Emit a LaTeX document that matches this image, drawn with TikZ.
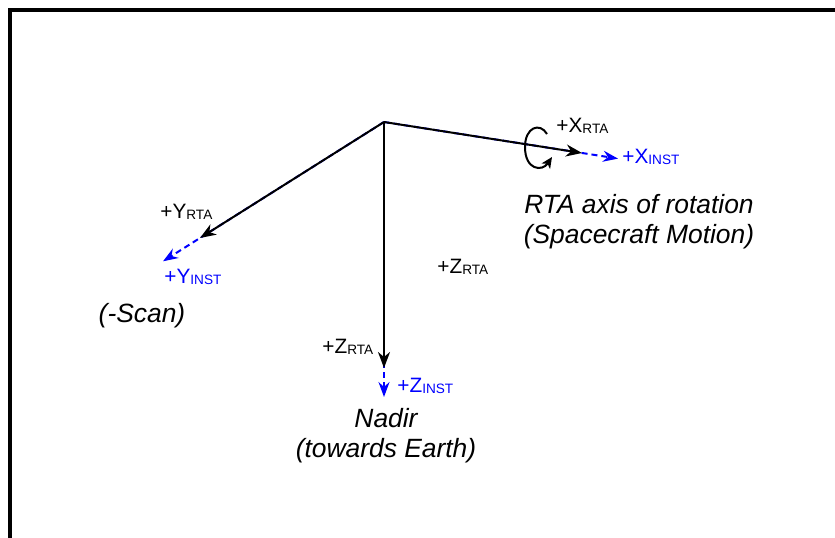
\documentclass[tikz,border=0pt]{standalone}
\usepackage{fontspec}
\setmainfont{Liberation Sans}
\usepackage{tikz}
\usetikzlibrary{arrows.meta}
\usetikzlibrary{calc}
\definecolor{instblue}{RGB}{0,0,255}
\tikzstyle{rta} = [draw=black,line width=1pt,-{Stealth[length=8pt,width=6pt,inset=2.5pt]}]
\tikzstyle{inst} = [draw=instblue,line width=1pt,dash pattern=on 3pt off 2pt,-{Stealth[length=7.5pt,width=5.5pt,inset=2.5pt]}]
\tikzstyle{lbl} = [inner sep=0pt,anchor=base west,font=\fontsize{10.4}{12}\selectfont]
\tikzstyle{note} = [inner sep=0pt,anchor=base,align=center,font=\fontsize{13.2}{15}\selectfont\itshape]
\newcommand{\axlbl}[2]{+#1\raisebox{-0.6pt}{\fontsize{6.8}{8}\selectfont #2}}

\begin{document}
\begin{tikzpicture}[x=0.5pt,y=-0.5pt]
\useasboundingbox (0,0) rectangle (835,537);
\clip (0,0) rectangle (835,537);
\draw[line width=2pt] (10,560) -- (10,10) -- (860,10);

\coordinate (O) at (384,122);
\coordinate (xr) at (582,153);
\coordinate (xi) at (618,158.6);
\coordinate (yr) at (200,238);
\coordinate (yi) at (163,261.3);
\coordinate (zr) at (384,368);
\coordinate (zi) at (384,397);

% instrument axes (under)
\draw[inst] (O) -- (xi);
\draw[inst] (O) -- (yi);
\draw[inst] (O) -- (zi);
% RTA axes
\draw[rta] (O) -- (xr);
\draw[rta] (O) -- (yr);
\draw[rta] (O) -- (zr);

% rotation about X
\draw[line width=1pt,-{Stealth[length=5.5pt,width=5pt,inset=1.5pt]}] (547,134) .. controls (540,122) and (525,127) .. (525,147) .. controls (525,170) and (542,172) .. (552,157);

\draw(556,132) node[lbl] (xrlbl) {\axlbl{X}{RTA}};
\draw(622,163) node[lbl,text=instblue] (xilbl) {\axlbl{X}{INST}};
\draw(160,218) node[lbl] (yrlbl) {\axlbl{Y}{RTA}};
\draw(164,283) node[lbl,text=instblue] (yilbl) {\axlbl{Y}{INST}};
\draw(322,353) node[lbl] (zrlbl) {\axlbl{Z}{RTA}};
\draw(397,392) node[lbl,text=instblue] (zilbl) {\axlbl{Z}{INST}};
\draw(437,273) node[lbl] (zrlbl2) {\axlbl{Z}{RTA}};

\draw(639,243) node[note] (rot) {RTA axis of rotation\\(Spacecraft Motion)};
\draw(142,322) node[note] (scan) {(-Scan)};
\draw(386,457) node[note] (nadir) {Nadir\\(towards Earth)};

\end{tikzpicture}
\end{document}
